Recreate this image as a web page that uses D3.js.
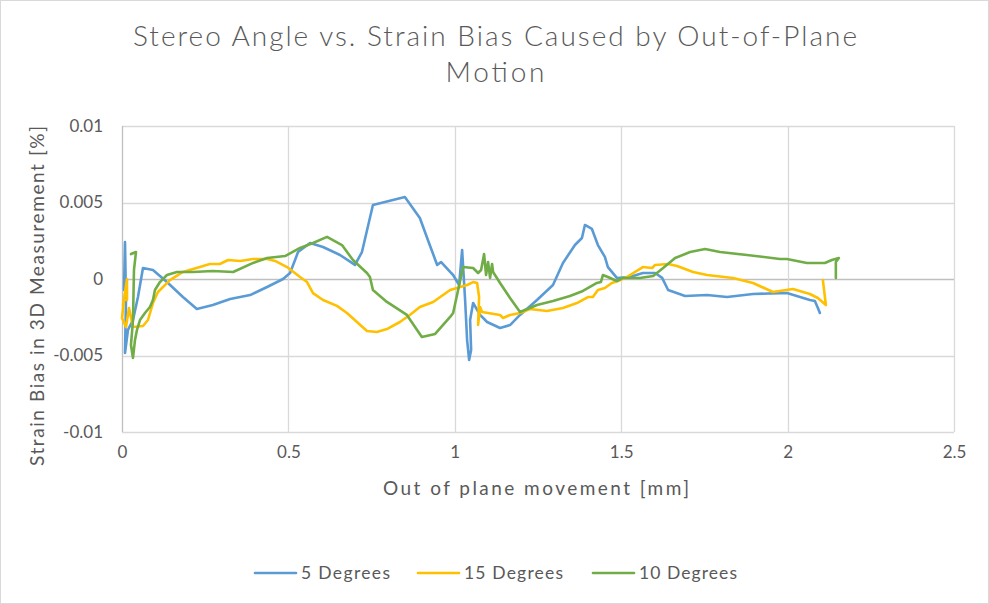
<!DOCTYPE html>
<html><head><meta charset="utf-8">
<script src="https://cdn.jsdelivr.net/npm/d3@7"></script>
<style>body{margin:0;background:#fff}svg{display:block}text{font-family:"Lato","Open Sans",sans-serif;fill:#595959}</style>
</head><body><div id="c"></div>
<script>
const title = ["Stereo Angle vs. Strain Bias Caused by Out-of-Plane", "Motion"];
const xTitle = "Out of plane movement [mm]";
const yTitle = "Strain Bias in 3D Measurement [%]";
const xTicks = [0, 0.5, 1, 1.5, 2, 2.5];
const yTicks = [-0.01, -0.005, 0, 0.005, 0.01];
const seriesNames = ["5 Degrees", "15 Degrees", "10 Degrees"];
const seriesColors = ["#5B9BD5", "#FFC000", "#70AD47"];

// 5 Degrees
const x5 = [0.006,0.009,0.012,0.009,0.018,0.033,0.048,0.063,0.093,0.135,0.183,0.225,0.273,0.325,0.385,0.436,0.484,0.505,0.529,0.565,0.604,0.655,0.700,0.721,0.754,0.850,0.895,0.920,0.947,0.959,0.986,0.995,1.013,1.022,1.031,1.037,1.043,1.049,1.046,1.055,1.076,1.097,1.136,1.166,1.196,1.247,1.295,1.325,1.361,1.382,1.391,1.412,1.430,1.451,1.460,1.487,1.526,1.565,1.602,1.623,1.641,1.692,1.758,1.818,1.896,1.977,1.998,2.067,2.082,2.091,2.097];
const y5 = [-0.00072,0.00242,-0.00137,-0.00484,-0.00333,-0.00268,-0.00118,0.00072,0.00059,-0.00020,-0.00118,-0.00196,-0.00170,-0.00131,-0.00105,-0.00052,0.00000,0.00039,0.00176,0.00235,0.00209,0.00157,0.00092,0.00176,0.00484,0.00536,0.00399,0.00250,0.00092,0.00111,0.00046,0.00026,-0.00039,0.00190,-0.00137,-0.00399,-0.00529,-0.00464,-0.00268,-0.00157,-0.00235,-0.00281,-0.00320,-0.00301,-0.00235,-0.00137,-0.00039,0.00105,0.00222,0.00268,0.00353,0.00327,0.00222,0.00144,0.00078,0.00007,0.00013,0.00039,0.00039,0.00007,-0.00072,-0.00111,-0.00105,-0.00118,-0.00098,-0.00092,-0.00092,-0.00137,-0.00144,-0.00190,-0.00222];

// 15 Degrees
const x15 = [0.003,0.015,0.015,0.006,0.000,0.012,0.021,0.033,0.063,0.078,0.093,0.108,0.144,0.183,0.234,0.264,0.294,0.319,0.355,0.394,0.436,0.460,0.496,0.535,0.556,0.574,0.604,0.646,0.676,0.736,0.766,0.796,0.835,0.865,0.895,0.935,0.986,1.037,1.055,1.067,1.073,1.070,1.076,1.082,1.136,1.145,1.166,1.196,1.226,1.277,1.325,1.367,1.400,1.415,1.430,1.451,1.472,1.490,1.517,1.565,1.593,1.602,1.641,1.668,1.716,1.758,1.836,1.896,1.956,2.016,2.067,2.091,2.115,2.106];
const y15 = [-0.00170,0.00000,-0.00137,-0.00137,-0.00255,-0.00314,-0.00190,-0.00314,-0.00307,-0.00268,-0.00157,-0.00085,-0.00007,0.00046,0.00078,0.00098,0.00098,0.00124,0.00118,0.00131,0.00131,0.00118,0.00078,0.00013,-0.00020,-0.00092,-0.00137,-0.00176,-0.00222,-0.00340,-0.00346,-0.00327,-0.00281,-0.00235,-0.00183,-0.00150,-0.00072,-0.00039,-0.00020,-0.00026,-0.00118,-0.00300,-0.00183,-0.00216,-0.00235,-0.00255,-0.00235,-0.00222,-0.00196,-0.00209,-0.00190,-0.00157,-0.00118,-0.00118,-0.00072,-0.00059,-0.00026,-0.00013,0.00013,0.00078,0.00072,0.00092,0.00098,0.00085,0.00046,0.00026,0.00007,-0.00026,-0.00085,-0.00065,-0.00098,-0.00124,-0.00170,-0.00007];

// 10 Degrees
const x10 = [0.027,0.042,0.036,0.033,0.027,0.033,0.039,0.045,0.054,0.069,0.084,0.093,0.099,0.114,0.135,0.165,0.213,0.273,0.334,0.394,0.436,0.490,0.535,0.574,0.616,0.661,0.694,0.736,0.745,0.754,0.796,0.856,0.901,0.941,0.986,0.995,1.010,1.025,1.055,1.070,1.079,1.088,1.094,1.100,1.106,1.112,1.115,1.136,1.166,1.196,1.247,1.295,1.346,1.385,1.427,1.439,1.445,1.460,1.487,1.505,1.556,1.596,1.626,1.662,1.707,1.752,1.797,1.878,1.977,1.998,2.058,2.112,2.133,2.154,2.145,2.145];
const y10 = [0.00163,0.00176,0.00059,-0.00268,-0.00431,-0.00516,-0.00399,-0.00333,-0.00268,-0.00222,-0.00183,-0.00137,-0.00072,-0.00020,0.00026,0.00046,0.00046,0.00052,0.00046,0.00105,0.00137,0.00150,0.00203,0.00235,0.00275,0.00222,0.00124,0.00039,0.00013,-0.00072,-0.00150,-0.00235,-0.00379,-0.00359,-0.00248,-0.00222,-0.00072,0.00078,0.00072,0.00039,0.00059,0.00163,0.00026,0.00111,0.00007,0.00098,0.00046,-0.00026,-0.00124,-0.00216,-0.00170,-0.00144,-0.00111,-0.00078,-0.00026,-0.00020,0.00026,0.00013,-0.00013,0.00007,0.00007,0.00020,0.00072,0.00137,0.00176,0.00196,0.00176,0.00157,0.00131,0.00131,0.00105,0.00105,0.00124,0.00137,0.00111,0.00007];

const W = 989, H = 604;
const m = {left:122, right:35, top:126, bottom:172};
const svg = d3.select("#c").append("svg").attr("width", W).attr("height", H);
svg.append("rect").attr("x",0.5).attr("y",0.5).attr("width",W-1).attr("height",H-1)
  .attr("fill","#fff").attr("stroke","#d9d9d9");

const x = d3.scaleLinear().domain([0, 2.5]).range([m.left, W - m.right]);
const y = d3.scaleLinear().domain([-0.01, 0.01]).range([H - m.bottom, m.top]);

// gridlines
svg.append("g").selectAll("line").data(yTicks).join("line")
  .attr("x1", m.left).attr("x2", W - m.right)
  .attr("y1", d => Math.round(y(d)) + 0.5).attr("y2", d => Math.round(y(d)) + 0.5)
  .attr("stroke", d => d === 0 ? "#bfbfbf" : "#d9d9d9").attr("stroke-width", 1.3);
svg.append("g").selectAll("line").data(xTicks).join("line")
  .attr("y1", m.top).attr("y2", H - m.bottom)
  .attr("x1", d => Math.round(x(d)) + 0.5).attr("x2", d => Math.round(x(d)) + 0.5)
  .attr("stroke", d => d === 0 ? "#bfbfbf" : "#d9d9d9").attr("stroke-width", 1.3);

// axes via d3
const fmt = d => d === 0 ? "0" : String(d);
const gx = svg.append("g").attr("transform", `translate(0,${H - m.bottom})`)
  .call(d3.axisBottom(x).tickValues(xTicks).tickFormat(fmt).tickSize(0).tickPadding(14));
const gy = svg.append("g").attr("transform", `translate(${m.left},0)`)
  .call(d3.axisLeft(y).tickValues(yTicks).tickFormat(fmt).tickSize(0).tickPadding(19));
[gx, gy].forEach(g => {
  g.select(".domain").remove();
  g.selectAll("text").attr("font-size", 17).attr("font-family", "Lato, sans-serif").attr("fill", "#595959");
});

// series
const series = [
  {name: seriesNames[0], color: seriesColors[0], xs: x5, ys: y5},
  {name: seriesNames[1], color: seriesColors[1], xs: x15, ys: y15},
  {name: seriesNames[2], color: seriesColors[2], xs: x10, ys: y10}
];
const line = d3.line().x(d => x(d[0])).y(d => y(d[1]));
series.forEach(s => {
  svg.append("path").datum(d3.zip(s.xs, s.ys)).attr("d", line)
    .attr("fill", "none").attr("stroke", s.color).attr("stroke-width", 2.6)
    .attr("stroke-linejoin", "round").attr("stroke-linecap", "round");
});

// title
const titleLen = [724, 99];
svg.append("g").selectAll("text").data(title).join("text")
  .attr("x", 495).attr("y", (d, i) => 46 + i * 36).attr("text-anchor", "middle")
  .attr("font-size", 28).attr("font-weight", 300)
  .attr("textLength", (d, i) => titleLen[i]).attr("lengthAdjust", "spacing").text(d => d);

// axis titles
svg.append("text").attr("x", 536).attr("y", 495)
  .attr("text-anchor", "middle").attr("font-size", 19)
  .attr("textLength", 306).attr("lengthAdjust", "spacing").text(xTitle);
svg.append("text").attr("transform", `translate(44,296) rotate(-90)`)
  .attr("text-anchor", "middle").attr("font-size", 19)
  .attr("textLength", 340).attr("lengthAdjust", "spacing").text(yTitle);

// legend
const legX = [255, 418, 593];
const legLen = [89, 99, 98];
const lg = svg.append("g").selectAll("g").data(series).join("g")
  .attr("transform", (d, i) => `translate(${legX[i]},573)`);
lg.append("line").attr("x1", 0).attr("x2", 41).attr("stroke", d => d.color)
  .attr("stroke-width", 2.6).attr("stroke-linecap", "round");
lg.append("text").attr("x", 46).attr("y", 6).attr("font-size", 17.5)
  .attr("textLength", (d, i) => legLen[i]).attr("lengthAdjust", "spacing").text(d => d.name);
</script></body></html>
